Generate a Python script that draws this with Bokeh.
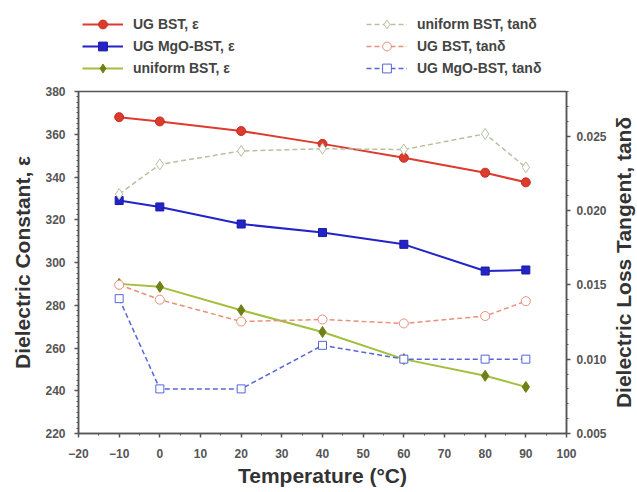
from bokeh.plotting import figure
from bokeh.layouts import row
from bokeh.models import Range1d, LinearAxis, FixedTicker, PrintfTickFormatter, Legend, LegendItem, Title
from bokeh.embed import file_html
from bokeh.resources import INLINE

temperature = [-10, 0, 20, 40, 60, 80, 90]
ug_bst_eps = [368, 366, 361.5, 355.5, 349, 342, 337.5]
ug_mgo_eps = [329, 326, 318, 314, 308.5, 296, 296.5]
uniform_eps = [290, 288.6, 277.7, 267.5, 254.8, 247, 241.8]
uniform_tan = [0.0211, 0.0231, 0.0240, 0.02415, 0.0241, 0.02515, 0.0229]
ug_bst_tan = [0.0150, 0.0140, 0.01253, 0.01267, 0.0124, 0.0129, 0.0139]
ug_mgo_tan = [0.01407, 0.0080, 0.0080, 0.01093, 0.0100, 0.0100, 0.0100]

x_ticks = [-20, -10, 0, 10, 20, 30, 40, 50, 60, 70, 80, 90, 100]
y_ticks = [220, 240, 260, 280, 300, 320, 340, 360, 380]
y2_ticks = [0.005, 0.010, 0.015, 0.020, 0.025]

labels = ["UG BST, ε", "UG MgO-BST, ε", "uniform BST, ε",
          "uniform BST, tanδ", "UG BST, tanδ", "UG MgO-BST, tanδ"]
right_title = "Dielectric Loss Tangent, tanδ"

FONT = "Liberation Sans"
TXT = "#333333"
AX = "#555555"

RED = "#dc3b2e"
BLUE = "#2323c8"
OLIVE = "#6f8018"
OLIVE_L = "#a2bf3e"
LGREEN = "#b4c2a0"
SALMON = "#e8907c"
LBLUE = "#5566d8"

styles = [
    dict(lc=RED, lw=2, dash="solid", marker="circle", size=9, fill=RED, mline="#c03020"),
    dict(lc=BLUE, lw=2, dash="solid", marker="square", size=8, fill=BLUE, mline="#1a1aa0"),
    dict(lc=OLIVE_L, lw=2, dash="solid", marker="diamond", size=11, fill=OLIVE, mline=OLIVE),
    dict(lc=LGREEN, lw=1.5, dash="5 3", marker="diamond", size=11, fill="white", mline=LGREEN),
    dict(lc=SALMON, lw=1.5, dash="5 3", marker="circle", size=9, fill="white", mline=SALMON),
    dict(lc=LBLUE, lw=1.5, dash="5 3", marker="square", size=8, fill="white", mline=LBLUE),
]

p = figure(width=609, height=409, output_backend="svg", toolbar_location=None,
           x_range=Range1d(-20, 100), y_range=Range1d(220, 380),
           min_border_left=78, min_border_top=8, min_border_right=41, min_border_bottom=59)
p.extra_y_ranges = {"tan": Range1d(0.005, 0.028)}
p.xgrid.visible = False
p.ygrid.visible = False
p.outline_line_color = AX
p.outline_line_width = 1.5

def style_axis(ax):
    ax.axis_line_color = AX
    ax.axis_line_width = 1.5
    ax.major_tick_line_color = AX
    ax.minor_tick_line_color = AX
    ax.major_tick_line_width = 1.5
    ax.major_tick_out = 4
    ax.major_tick_in = 0
    ax.minor_tick_out = 2
    ax.minor_tick_in = 0
    ax.major_label_text_font = FONT
    ax.major_label_text_font_size = "12px"
    ax.major_label_text_font_style = "bold"
    ax.major_label_text_color = AX
    ax.axis_label_text_font = FONT
    ax.axis_label_text_font_size = "21px"
    ax.axis_label_text_font_style = "bold"
    ax.axis_label_text_color = TXT

xa = p.xaxis[0]
xa.ticker = FixedTicker(ticks=x_ticks, minor_ticks=list(range(-20, 101, 5)))
xa.axis_label = "Temperature (°C)"
xa.major_label_standoff = 11
xa.axis_label_standoff = 3
style_axis(xa)

ya = p.yaxis[0]
ya.ticker = FixedTicker(ticks=y_ticks, minor_ticks=[220 + 2.5 * i for i in range(65)])
ya.axis_label = "Dielectric Constant, ε"
ya.major_label_standoff = 9
ya.axis_label_standoff = 8
style_axis(ya)

y2 = LinearAxis(y_range_name="tan")
y2.ticker = FixedTicker(ticks=y2_ticks, minor_ticks=[0.005 + 0.001 * i for i in range(24)])
y2.formatter = PrintfTickFormatter(format="%.3f")
y2.major_label_standoff = 6
style_axis(y2)
p.add_layout(y2, "right")

series = [ug_bst_eps, ug_mgo_eps, uniform_eps, uniform_tan, ug_bst_tan, ug_mgo_tan]
for i, (ys, st) in enumerate(zip(series, styles)):
    kw = {} if i < 3 else {"y_range_name": "tan"}
    p.line(temperature, ys, line_color=st["lc"], line_width=st["lw"], line_dash=st["dash"], **kw)
    p.scatter(temperature, ys, marker=st["marker"], size=st["size"], fill_color=st["fill"],
              line_color=st["mline"], **kw)

# narrow strip to the right carrying the right-axis title, reading bottom to top
tf = figure(width=28, height=409, output_backend="svg", toolbar_location=None,
            x_axis_type=None, y_axis_type=None,
            min_border_left=0, min_border_right=0, min_border_top=8, min_border_bottom=59,
            x_range=Range1d(0, 1), y_range=Range1d(0, 1))
tf.outline_line_alpha = 0
tf.xgrid.visible = False
tf.ygrid.visible = False
tt = Title(text=right_title, align="center", text_font=FONT, text_font_size="21px",
           text_font_style="bold", text_color=TXT, standoff=0, offset=0)
tf.add_layout(tt, "left")

# legend strip above the chart (its sample glyphs sit outside its visible range)
lf = figure(width=637, height=83, output_backend="svg", toolbar_location=None,
            x_axis_type=None, y_axis_type=None, min_border=0,
            x_range=Range1d(0, 1), y_range=Range1d(0, 1))
lf.outline_line_alpha = 0
lf.xgrid.visible = False
lf.ygrid.visible = False
items = []
for lab, st in zip(labels, styles):
    rl = lf.line([5, 6], [5, 6], line_color=st["lc"], line_width=st["lw"], line_dash=st["dash"])
    rm = lf.scatter([5], [5], marker=st["marker"], size=st["size"] - 1, fill_color=st["fill"], line_color=st["mline"])
    items.append(LegendItem(label=lab, renderers=[rl, rm]))

lg = Legend(items=items, orientation="vertical", ncols=2, nrows=3, location=(82, 4))
lg.background_fill_alpha = 0
lg.border_line_alpha = 0
lg.padding = 0
lg.margin = 0
lg.spacing = 0
lg.label_height = 22
lg.glyph_height = 22
lg.glyph_width = 41
lg.label_standoff = 10
lg.label_width = 233
lg.label_text_font = FONT
lg.label_text_font_size = "14px"
lg.label_text_font_style = "bold"
lg.label_text_color = "#444444"
lf.add_layout(lg, "center")

open("out.html", "w").write(file_html([lf, row(p, tf, spacing=0)], INLINE))
